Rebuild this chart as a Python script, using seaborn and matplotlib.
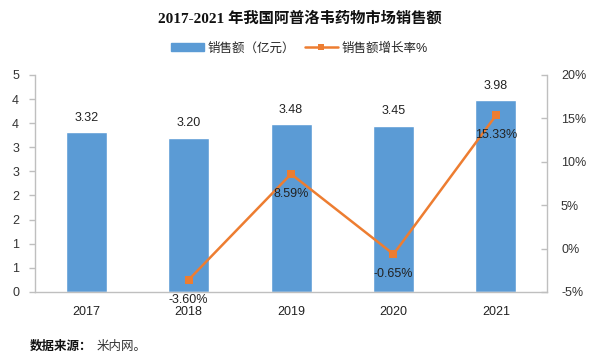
import pandas as pd
import seaborn as sns
import matplotlib.pyplot as plt
from matplotlib.lines import Line2D
from matplotlib.patches import Patch

years = ["2017", "2018", "2019", "2020", "2021"]
sales = [3.32, 3.20, 3.48, 3.45, 3.98]
growth_years = ["2018", "2019", "2020", "2021"]
growth = [-3.60, 8.59, -0.65, 15.33]

left_ticks = [0, 0.5, 1, 1.5, 2, 2.5, 3, 3.5, 4, 4.5]
left_labels = ["0", "1", "1", "2", "2", "3", "3", "4", "4", "5"]
right_ticks = [-5, 0, 5, 10, 15, 20]

BLUE = "#5B9BD5"
ORANGE = "#ED7D31"
GREY = "#BFBFBF"

sns.set_theme(style="white")
plt.rcParams["font.family"] = ["Liberation Sans", "Noto Sans CJK SC", "DejaVu Sans"]

df_sales = pd.DataFrame({"year": years, "sales": sales})
df_growth = pd.DataFrame({
    "pos": [years.index(y) for y in growth_years],
    "growth": growth,
})

fig = plt.figure(figsize=(5.99, 3.6), dpi=100)
ax = fig.add_axes([0.0584, 0.189, 0.855, 0.603])

# bars: sales
sns.barplot(data=df_sales, x="year", y="sales", color=BLUE, width=0.4,
            saturation=1, ax=ax)
ax.set_ylim(0, 4.5)
ax.set_yticks(left_ticks)
ax.set_yticklabels(left_labels)
ax.set_xlim(-0.5, 4.5)
ax.set_xlabel("")
ax.set_ylabel("")
for i, v in enumerate(sales):
    ax.text(i, v + 0.17, f"{v:.2f}", ha="center", va="bottom", fontsize=9, color="#222222")

# line: growth rate on the right axis
ax2 = ax.twinx()
sns.lineplot(data=df_growth, x="pos", y="growth", color=ORANGE, marker="s",
             markersize=6, markeredgewidth=0, linewidth=1.8, ax=ax2)
ax2.set_ylim(-5, 20)
ax2.set_yticks(right_ticks)
ax2.set_yticklabels([f"{t}%" for t in right_ticks])
ax2.set_ylabel("")
ax2.set_xlabel("")
for p, g in zip(df_growth["pos"], growth):
    ax2.text(p, g - 2.3, f"{g:.2f}%", ha="center", va="center", fontsize=9, color="#222222")

for a in (ax, ax2):
    a.spines["top"].set_visible(False)
    for s in ("left", "right", "bottom"):
        a.spines[s].set_color(GREY)
        a.spines[s].set_linewidth(1)
    a.tick_params(axis="y", labelsize=9, colors=GREY, length=4, width=1)
    a.tick_params(axis="y", labelcolor="#333333")
ax.tick_params(axis="x", length=0, pad=10, labelsize=9, labelcolor="#222222")
ax.tick_params(axis="y", pad=7.5)
ax2.tick_params(axis="y", direction="in", pad=10)
ax.spines["right"].set_visible(False)
ax2.spines["left"].set_visible(False)
ax2.spines["bottom"].set_visible(False)

fig.text(0.5, 0.948, "2017-2021 年我国阿普洛韦药物市场销售额", ha="center", va="center",
         fontsize=11, fontweight="bold", color="#111111",
         family=["Liberation Serif", "Noto Sans CJK SC"])

handles = [
    Patch(facecolor=BLUE, edgecolor=BLUE),
    Line2D([0], [0], color=ORANGE, marker="s", markersize=5, linewidth=1.8, markeredgewidth=0),
]
fig.legend(handles, ["销售额（亿元）", "销售额增长率%"], loc="center",
           bbox_to_anchor=(0.5, 0.866), ncol=2, frameon=False, fontsize=9,
           handlelength=2.6, handleheight=0.7, columnspacing=0.8, handletextpad=0.3)

fig.text(0.05, 0.036, "数据来源：", ha="left", va="center", fontsize=9,
         fontweight="bold", color="#111111")
fig.text(0.162, 0.036, "米内网。", ha="left", va="center", fontsize=9, color="#333333")

fig.savefig("out.png", dpi=100)
